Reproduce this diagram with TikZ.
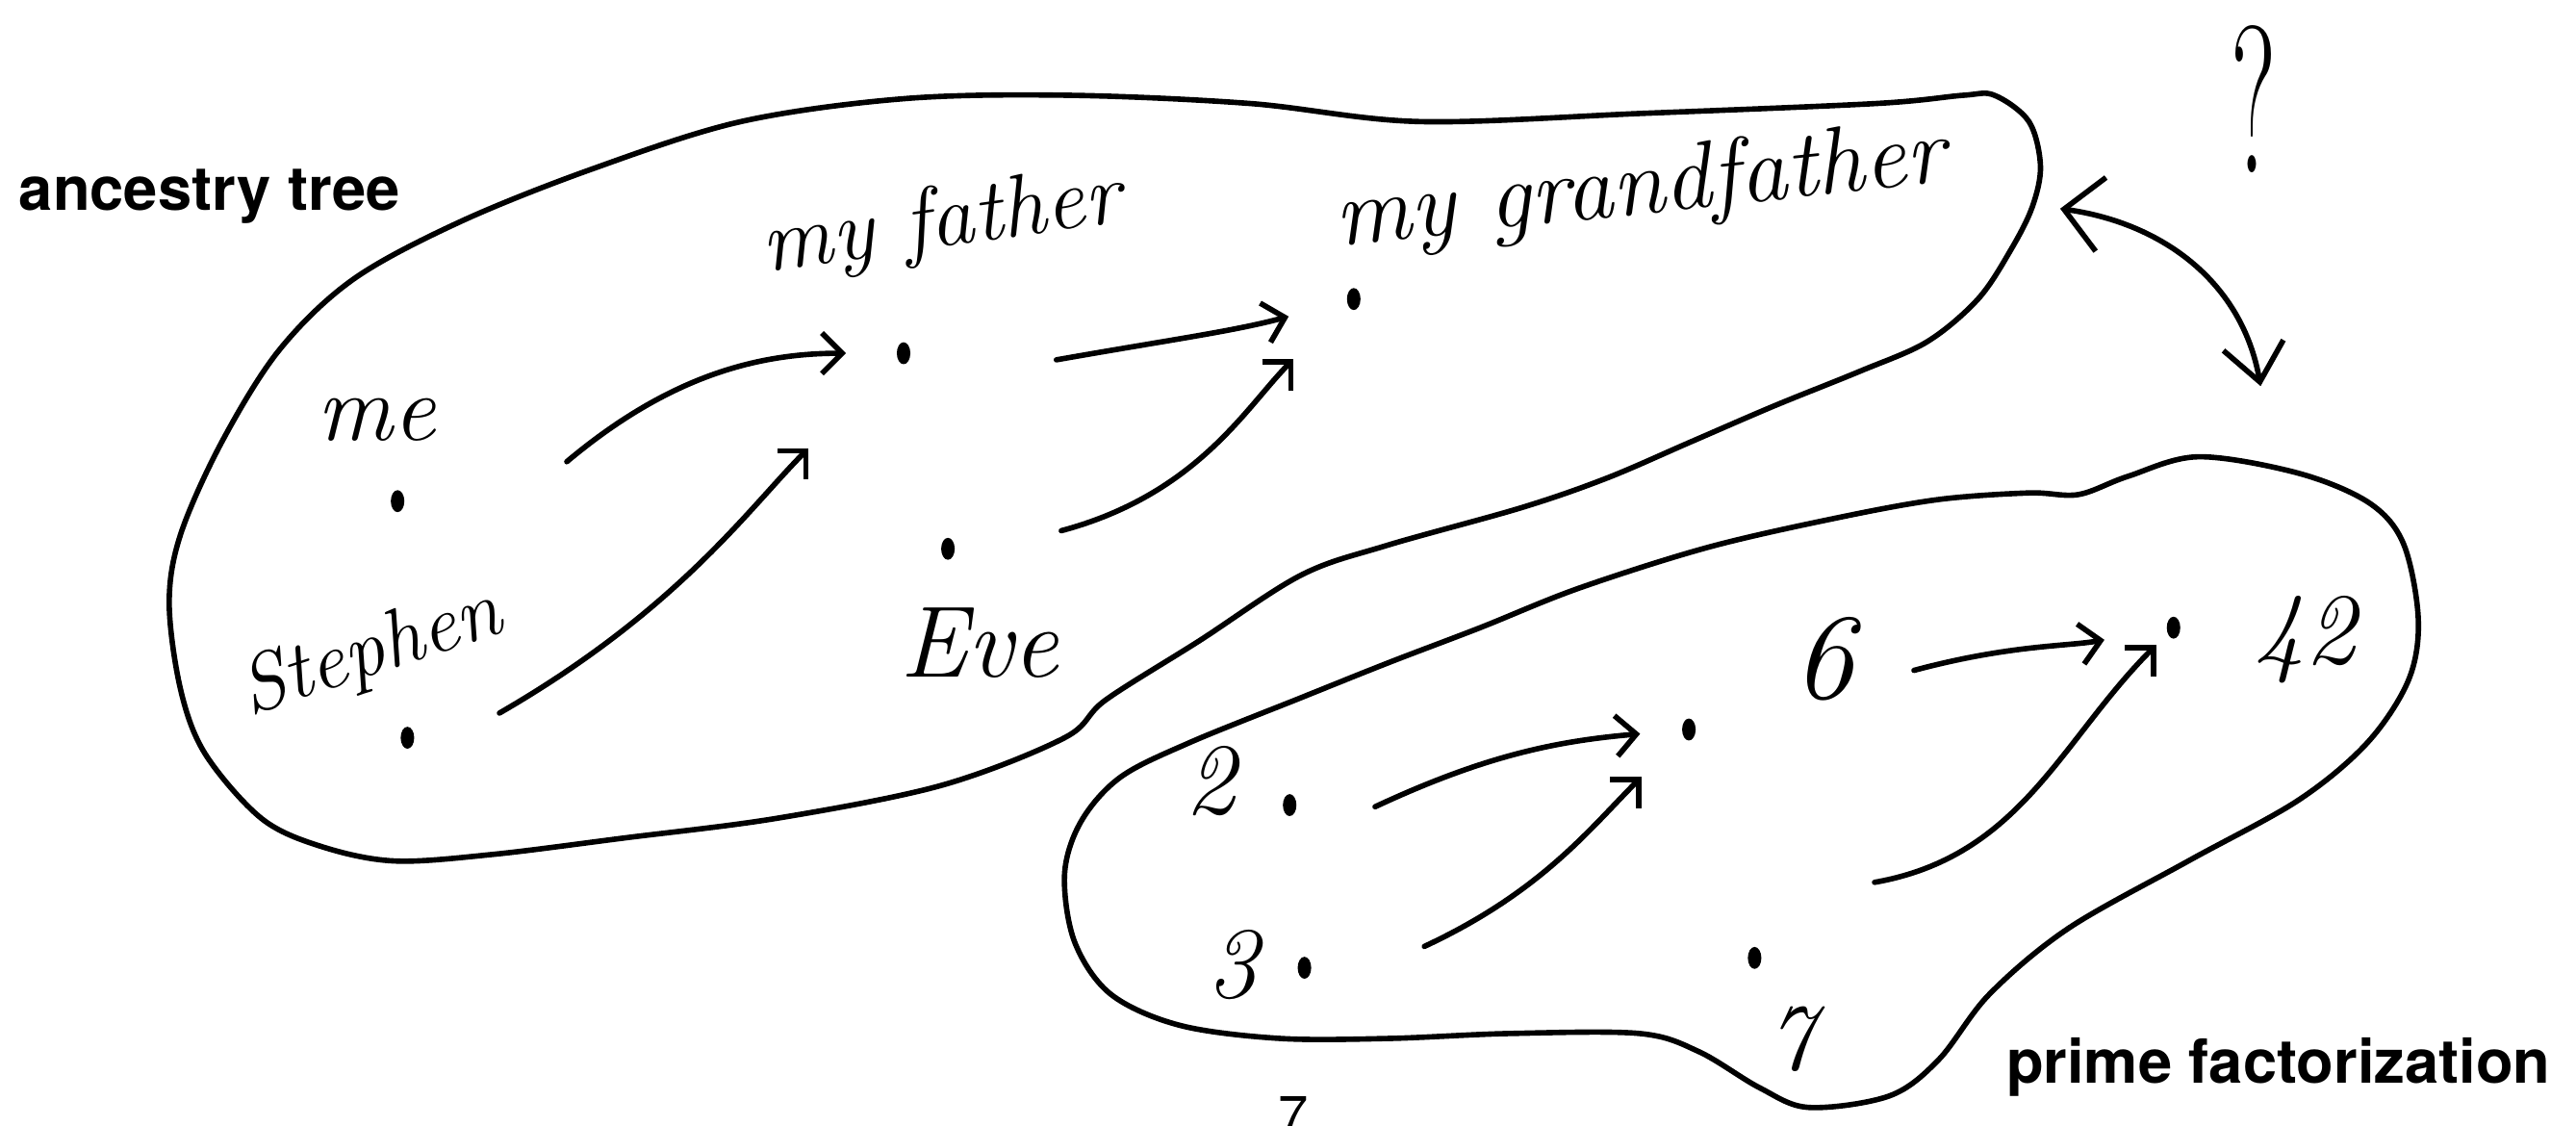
\documentclass[tikz,border=0pt]{standalone}
\usepackage{fontspec}
\newfontfamily\labelfont{TeX Gyre Heros}
\usetikzlibrary{arrows.meta,shapes.geometric}

\begin{document}
\begin{tikzpicture}[
        x=0.017073cm, y=0.017073cm,
        line width=1.6pt, line cap=round, line join=round,
        dot/.style={ellipse, fill, inner sep=0pt, minimum width=4pt, minimum height=6.5pt},
        hand/.style={font=\fontsize{#1}{#1}\selectfont\itshape, inner sep=0pt, anchor=base},
        hand/.default=26,
        title/.style={font=\labelfont\bfseries\fontsize{18}{20}\selectfont, inner sep=0pt},
        arrow/.style={-{Straight Barb[length=6pt, width=12pt]}},
        bigarrow/.style={{Straight Barb[length=11pt, width=22pt]}-{Straight Barb[length=11pt, width=18pt]}}
    ]
    \useasboundingbox (0,0) rectangle (1568,685);

    % the two sets
    \draw plot[smooth cycle, tension=0.55] coordinates {
        (360,582) (451,611) (551,625) (651,627) (761,622) (864,611) (1000,616)
        (1142,622) (1195,627) (1214,627) (1235,611) (1242,584) (1237,559)
        (1224,533) (1204,503) (1173,477) (1132,459) (1080,438) (1029,416)
        (978,394) (926,376) (844,353) (792,335) (730,295) (673,259) (648,236)
        (573,207) (473,187) (380,175) (300,165) (240,161) (195,170) (159,187)
        (125,226) (110,265) (103,318) (110,360) (135,416) (170,472) (215,515)
        (280,550)};
    \draw plot[smooth cycle, tension=0.55] coordinates {
        (1338,407) (1399,397) (1442,379) (1463,354) (1472,308) (1466,271)
        (1441,233) (1399,198) (1332,161) (1259,120) (1211,80) (1180,40)
        (1150,18) (1101,11) (1071,23) (1034,45) (998,56) (919,56) (846,53)
        (779,53) (718,61) (676,80) (654,112) (648,153) (658,185) (682,212)
        (724,233) (791,260) (846,282) (901,303) (961,327) (1040,352)
        (1119,370) (1180,381) (1235,385) (1265,384) (1295,395)};

    % labels
    \node[title, anchor=base west] (treetitle) at (10,557) {ancestry tree};
    \node[title, anchor=base east] (primetitle) at (1554,26) {prime factorization};
    \node[font=\labelfont\fontsize{16}{16}\selectfont, anchor=north, inner sep=0pt] (pagenum) at (787,19) {7};

    % ancestry tree
    \node[dot] (me) at (242,380) {};
    \node[dot] (stephen) at (248,236) {};
    \node[dot] (father) at (550,470) {};
    \node[dot] (eve) at (577,351) {};
    \node[dot] (grandpa) at (824,503) {};
    \node[hand=28] (melabel) at (229,417) {me};
    \node[hand=24, rotate=18] (stephenlabel) at (230,275) {Stephen};
    \node[hand=26, rotate=8] (fatherlabel) at (575,535) {my father};
    \node[hand=30] (evelabel) at (596,273) {Eve};
    \node[hand=28, rotate=6] (grandpalabel) at (1000,555) {my grandfather};

    \coordinate (meout) at (345,404);
    \coordinate (stephenout) at (304,251);
    \coordinate (fatherout) at (643,466);
    \coordinate (eveout) at (646,362);
    \draw[arrow, shorten >=0.5cm] (meout) to[out=40, in=180] (father);
    \draw[arrow, shorten >=1.28cm] (stephenout) to[out=30, in=225] (father);
    \draw[arrow, shorten >=0.6cm] (fatherout) to[out=10, in=195] (grandpa);
    \draw[arrow, shorten >=0.77cm] (eveout) to[out=15, in=225] (grandpa);

    % prime factorization
    \node[dot] (two) at (785,195) {};
    \node[dot] (three) at (794,96) {};
    \node[dot] (six) at (1028,241) {};
    \node[dot] (seven) at (1068,102) {};
    \node[dot] (fortytwo) at (1323,303) {};
    \node[hand=30] (twolabel) at (737,190) {2};
    \node[hand=30] (threelabel) at (750,78) {3};
    \node[hand=36] (sixlabel) at (1110,260) {6};
    \node[hand=28] (sevenlabel) at (1090,34) {7};
    \node[hand=30] (fortytwolabel) at (1403,281) {42};

    \coordinate (twoout) at (837,194);
    \coordinate (threeout) at (867,109);
    \coordinate (sixout) at (1165,277);
    \coordinate (sevenout) at (1141,148);
    \draw[arrow, shorten >=0.41cm] (twoout) to[out=25, in=185] (six);
    \draw[arrow, shorten >=0.58cm] (threeout) to[out=25, in=225] (six);
    \draw[arrow, shorten >=0.63cm] (sixout) to[out=15, in=190] (fortytwo);
    \draw[arrow, shorten >=0.14cm] (sevenout) to[out=10, in=225] (fortytwo);

    % between the sets
    \coordinate (treeside) at (1254,558);
    \coordinate (primeside) at (1376,450);
    \node[hand=62] (question) at (1372,580) {\upshape\scalebox{0.5}[1]{?}};
    \draw[bigarrow] (treeside) to[out=-8, in=100] (primeside);
\end{tikzpicture}
\end{document}
